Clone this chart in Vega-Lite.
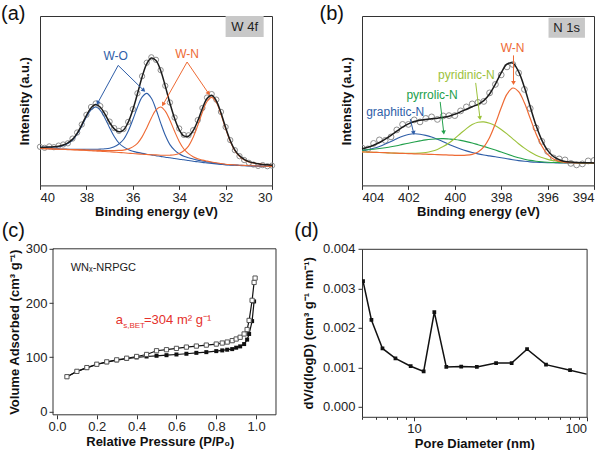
{
"$schema": "https://vega.github.io/schema/vega-lite/v6.json",
"padding": {"left": 0, "top": 3, "right": 0, "bottom": 0},
"config": {
 "font": "Liberation Sans",
 "view": {"stroke": "#333", "strokeWidth": 1},
 "axis": {"grid": false, "domain": false, "labelFont": "Liberation Sans", "labelFontSize": 13, "labelColor": "#222", "titleFont": "Liberation Sans", "titleFontSize": 13, "titleFontWeight": "bold", "titleColor": "#111", "tickColor": "#333", "tickSize": 4, "labelPadding": 2},
 "title": {"font": "Liberation Sans", "fontSize": 20, "fontWeight": "normal", "color": "#111", "anchor": "start", "frame": "group", "offset": 0, "baseline": "alphabetic"}
},
"datasets": {
 "a": [
{"e":40.0,"b1":38.0,"b2":37.0,"o1":37.0,"o2":37.0,"env":38.0,"raw":38.6},
{"e":39.8,"b1":38.0,"b2":36.9,"o1":36.8,"o2":36.8,"env":38.1,"raw":37.6},
{"e":39.6,"b1":38.1,"b2":36.8,"o1":36.6,"o2":36.6,"env":38.3,"raw":39.0},
{"e":39.4,"b1":38.4,"b2":36.6,"o1":36.4,"o2":36.4,"env":38.6,"raw":38.2},
{"e":39.2,"b1":38.8,"b2":36.5,"o1":36.2,"o2":36.2,"env":39.1,"raw":39.8},
{"e":39.0,"b1":40.0,"b2":36.3,"o1":36.1,"o2":36.0,"env":40.4,"raw":40.9},
{"e":38.8,"b1":42.0,"b2":36.2,"o1":36.0,"o2":35.8,"env":42.6,"raw":42.1},
{"e":38.6,"b1":45.3,"b2":36.1,"o1":35.8,"o2":35.6,"env":46.0,"raw":46.8},
{"e":38.4,"b1":51.2,"b2":36.0,"o1":35.7,"o2":35.4,"env":52.1,"raw":52.9},
{"e":38.2,"b1":59.4,"b2":36.0,"o1":35.5,"o2":35.2,"env":60.5,"raw":60.9},
{"e":38.0,"b1":68.4,"b2":36.1,"o1":35.4,"o2":35.0,"env":69.9,"raw":70.6},
{"e":37.8,"b1":75.6,"b2":36.1,"o1":35.2,"o2":34.7,"env":77.5,"raw":78.4},
{"e":37.6,"b1":78.4,"b2":36.1,"o1":35.1,"o2":34.4,"env":80.8,"raw":81.9},
{"e":37.4,"b1":75.0,"b2":36.3,"o1":35.0,"o2":34.1,"env":78.1,"raw":79.3},
{"e":37.2,"b1":67.2,"b2":36.6,"o1":34.9,"o2":33.9,"env":71.2,"raw":72.0},
{"e":37.0,"b1":57.7,"b2":37.2,"o1":34.9,"o2":33.6,"env":62.9,"raw":63.8},
{"e":36.8,"b1":48.9,"b2":38.7,"o1":34.9,"o2":33.3,"env":56.5,"raw":57.3},
{"e":36.6,"b1":42.4,"b2":41.4,"o1":35.0,"o2":32.9,"env":53.6,"raw":54.5},
{"e":36.4,"b1":38.5,"b2":45.9,"o1":35.3,"o2":32.6,"env":55.4,"raw":56.4},
{"e":36.2,"b1":35.9,"b2":54.2,"o1":36.4,"o2":32.2,"env":63.0,"raw":63.5},
{"e":36.0,"b1":34.1,"b2":65.6,"o1":38.5,"o2":31.9,"env":75.6,"raw":76.3},
{"e":35.8,"b1":33.0,"b2":78.1,"o1":42.0,"o2":31.5,"env":91.6,"raw":92.1},
{"e":35.6,"b1":32.0,"b2":88.2,"o1":48.5,"o2":31.2,"env":108.4,"raw":109.2},
{"e":35.4,"b1":31.2,"b2":92.0,"o1":57.5,"o2":30.9,"env":121.6,"raw":122.7},
{"e":35.2,"b1":30.5,"b2":87.2,"o1":67.5,"o2":30.6,"env":127.3,"raw":128.1},
{"e":35.0,"b1":29.7,"b2":76.1,"o1":75.5,"o2":30.5,"env":124.8,"raw":125.6},
{"e":34.8,"b1":29.0,"b2":62.5,"o1":78.4,"o2":30.2,"env":114.9,"raw":115.3},
{"e":34.6,"b1":28.2,"b2":50.1,"o1":74.3,"o2":30.1,"env":99.3,"raw":99.6},
{"e":34.4,"b1":27.6,"b2":40.8,"o1":65.2,"o2":30.2,"env":82.2,"raw":82.9},
{"e":34.2,"b1":26.9,"b2":35.3,"o1":54.1,"o2":30.6,"env":67.1,"raw":67.9},
{"e":34.0,"b1":26.2,"b2":31.6,"o1":44.0,"o2":31.9,"env":55.7,"raw":56.9},
{"e":33.8,"b1":25.6,"b2":29.1,"o1":36.4,"o2":34.6,"env":49.5,"raw":50.5},
{"e":33.6,"b1":24.9,"b2":27.6,"o1":31.8,"o2":39.3,"env":49.2,"raw":50.1},
{"e":33.4,"b1":24.2,"b2":26.4,"o1":28.7,"o2":48.0,"env":54.7,"raw":55.2},
{"e":33.2,"b1":23.6,"b2":25.3,"o1":26.6,"o2":59.9,"env":64.6,"raw":65.3},
{"e":33.0,"b1":23.0,"b2":24.4,"o1":25.3,"o2":73.2,"env":76.9,"raw":77.4},
{"e":32.8,"b1":22.5,"b2":23.6,"o1":24.3,"o2":83.9,"env":86.8,"raw":87.9},
{"e":32.6,"b1":22.0,"b2":22.8,"o1":23.4,"o2":88.0,"env":90.2,"raw":91.3},
{"e":32.4,"b1":21.5,"b2":22.1,"o1":22.6,"o2":82.9,"env":84.6,"raw":85.8},
{"e":32.2,"b1":21.0,"b2":21.5,"o1":21.9,"o2":71.2,"env":72.6,"raw":73.5},
{"e":32.0,"b1":20.5,"b2":20.9,"o1":21.2,"o2":56.8,"env":57.9,"raw":58.4},
{"e":31.8,"b1":20.3,"b2":20.6,"o1":20.8,"o2":44.1,"env":44.9,"raw":45.3},
{"e":31.6,"b1":20.1,"b2":20.4,"o1":20.5,"o2":34.6,"env":35.3,"raw":35.2},
{"e":31.4,"b1":19.9,"b2":20.1,"o1":20.2,"o2":29.1,"env":29.6,"raw":29.2},
{"e":31.2,"b1":19.7,"b2":19.9,"o1":20.0,"o2":25.6,"env":26.0,"raw":25.4},
{"e":31.0,"b1":19.5,"b2":19.6,"o1":19.7,"o2":23.5,"env":23.8,"raw":22.6},
{"e":30.8,"b1":19.4,"b2":19.4,"o1":19.6,"o2":22.4,"env":22.6,"raw":20.8},
{"e":30.6,"b1":19.3,"b2":19.3,"o1":19.4,"o2":21.6,"env":21.7,"raw":19.5},
{"e":30.4,"b1":19.2,"b2":19.2,"o1":19.2,"o2":21.0,"env":21.0,"raw":20.3},
{"e":30.2,"b1":19.1,"b2":19.1,"o1":19.1,"o2":20.6,"env":20.6,"raw":19.2},
{"e":30.0,"b1":19.0,"b2":19.0,"o1":19.0,"o2":20.1,"env":20.1,"raw":19.8}
 ],
 "annA": [
  {"id":"wo1","g":"wo","x1":36.63,"y1":120,"x2":37.5,"y2":83},
  {"id":"wo2","g":"wo","x1":36.63,"y1":120,"x2":35.55,"y2":95.5},
  {"id":"wn1","g":"wn","x1":33.66,"y1":123.4,"x2":34.68,"y2":81.5},
  {"id":"wn2","g":"wn","x1":33.66,"y1":123.4,"x2":32.75,"y2":92.5}
 ],
 "txtA": [{"g":"wo","t":"W-O","x":36.74,"y":129},{"g":"wn","t":"W-N","x":33.66,"y":131.5}],
 "boxA": [{"x1":32.0,"x2":30.36,"y1":148.4,"y2":169.4,"xc":31.18,"yc":158.9,"t":"W 4f"}],
 "b": [
{"e":404.0,"g":34.9,"p":35.2,"y":33.5,"w":33.5,"env":36.6,"raw":37.5},
{"e":403.75,"g":35.8,"p":35.6,"y":33.3,"w":33.3,"env":38.1,"raw":36.5},
{"e":403.5,"g":37.1,"p":36.2,"y":33.1,"w":33.1,"env":40.1,"raw":42.0},
{"e":403.25,"g":38.9,"p":36.9,"y":32.9,"w":32.9,"env":42.9,"raw":45.5},
{"e":403.0,"g":41.3,"p":37.7,"y":32.7,"w":32.7,"env":46.3,"raw":45.0},
{"e":402.75,"g":43.9,"p":38.6,"y":32.4,"w":32.4,"env":50.1,"raw":48.5},
{"e":402.5,"g":46.7,"p":39.7,"y":32.2,"w":32.2,"env":54.2,"raw":55.5},
{"e":402.25,"g":49.2,"p":41.0,"y":32.1,"w":32.0,"env":58.3,"raw":61.0},
{"e":402.0,"g":50.9,"p":42.2,"y":32.0,"w":31.8,"env":61.5,"raw":61.0},
{"e":401.75,"g":51.6,"p":43.4,"y":32.1,"w":31.6,"env":63.9,"raw":65.5},
{"e":401.5,"g":51.2,"p":44.5,"y":32.3,"w":31.4,"env":65.2,"raw":63.5},
{"e":401.25,"g":50.0,"p":45.5,"y":32.9,"w":31.2,"env":66.0,"raw":67.0},
{"e":401.0,"g":48.3,"p":46.2,"y":34.1,"w":31.0,"env":66.6,"raw":68.5},
{"e":400.75,"g":46.1,"p":46.7,"y":36.0,"w":30.8,"env":67.2,"raw":66.0},
{"e":400.5,"g":43.7,"p":46.8,"y":38.8,"w":30.6,"env":68.1,"raw":69.5},
{"e":400.25,"g":41.0,"p":46.4,"y":42.4,"w":30.3,"env":69.2,"raw":69.8},
{"e":400.0,"g":38.6,"p":45.9,"y":46.9,"w":30.1,"env":71.2,"raw":69.8},
{"e":399.75,"g":36.4,"p":45.0,"y":51.9,"w":30.0,"env":73.6,"raw":74.5},
{"e":399.5,"g":34.5,"p":43.8,"y":56.8,"w":30.2,"env":76.2,"raw":78.5},
{"e":399.25,"g":32.9,"p":42.4,"y":60.8,"w":31.1,"env":78.7,"raw":81.5},
{"e":399.0,"g":31.5,"p":40.7,"y":63.1,"w":33.4,"env":81.1,"raw":83.0},
{"e":398.75,"g":30.4,"p":39.0,"y":63.5,"w":38.6,"env":84.8,"raw":84.0},
{"e":398.5,"g":29.5,"p":37.2,"y":62.2,"w":48.0,"env":91.4,"raw":92.5},
{"e":398.25,"g":28.6,"p":35.3,"y":59.6,"w":61.8,"env":101.3,"raw":101.0},
{"e":398.0,"g":27.7,"p":33.3,"y":55.9,"w":77.6,"env":112.6,"raw":110.5},
{"e":397.75,"g":26.7,"p":31.3,"y":51.5,"w":91.2,"env":121.2,"raw":118.5},
{"e":397.5,"g":25.7,"p":29.4,"y":46.6,"w":97.4,"env":122.3,"raw":121.0},
{"e":397.25,"g":24.8,"p":27.6,"y":41.7,"w":93.8,"env":113.7,"raw":112.5},
{"e":397.0,"g":24.1,"p":26.2,"y":37.3,"w":82.6,"env":98.1,"raw":96.0},
{"e":396.75,"g":23.5,"p":25.0,"y":33.4,"w":67.1,"env":78.7,"raw":77.0},
{"e":396.5,"g":23.1,"p":24.2,"y":30.2,"w":51.7,"env":60.1,"raw":57.5},
{"e":396.25,"g":22.9,"p":23.6,"y":27.9,"w":39.4,"env":45.3,"raw":44.0},
{"e":396.0,"g":22.7,"p":23.2,"y":26.0,"w":31.0,"env":35.0,"raw":34.0},
{"e":395.75,"g":22.6,"p":22.9,"y":24.7,"w":26.3,"env":28.9,"raw":27.5},
{"e":395.5,"g":22.5,"p":22.8,"y":23.9,"w":24.0,"env":25.7,"raw":26.5},
{"e":395.25,"g":22.5,"p":22.7,"y":23.3,"w":23.0,"env":24.0,"raw":25.5},
{"e":395.0,"g":22.5,"p":22.6,"y":23.0,"w":22.7,"env":23.3,"raw":22.0},
{"e":394.75,"g":22.5,"p":22.6,"y":22.8,"w":22.5,"env":22.9,"raw":20.5},
{"e":394.5,"g":22.5,"p":22.5,"y":22.7,"w":22.5,"env":22.7,"raw":21.5},
{"e":394.25,"g":22.5,"p":22.5,"y":22.6,"w":22.5,"env":22.6,"raw":24.5},
{"e":394.0,"g":22.5,"p":22.5,"y":22.5,"w":22.5,"env":22.5,"raw":25.0}
 ],
 "annB": [
  {"id":"wn","g":"wn","x1":397.47,"y1":130,"x2":397.47,"y2":103},
  {"id":"py","g":"py","x1":399.1,"y1":102.5,"x2":398.92,"y2":68},
  {"id":"pr","g":"pr","x1":400.63,"y1":83.5,"x2":400.48,"y2":53.5},
  {"id":"gr","g":"gr","x1":401.92,"y1":66.5,"x2":401.78,"y2":53}
 ],
 "txtB": [{"g":"wn","t":"W-N","x":397.51,"y":137},{"g":"py","t":"pyridinic-N","x":399.5,"y":110},{"g":"pr","t":"pyrrolic-N","x":400.98,"y":90.5},{"g":"gr","t":"graphitic-N","x":402.57,"y":73}],
 "boxB": [{"x1":395.96,"x2":394.39,"y1":147.7,"y2":167.7,"xc":395.18,"yc":157.7,"t":"N 1s"}],
 "c": [
{"p":0.05,"v":64.2,"s":"ads"},{"p":0.10,"v":73.8,"s":"ads"},{"p":0.15,"v":80.6,"s":"ads"},{"p":0.20,"v":86.8,"s":"ads"},{"p":0.25,"v":91.0,"s":"ads"},{"p":0.30,"v":94.5,"s":"ads"},{"p":0.35,"v":97.3,"s":"ads"},{"p":0.40,"v":99.8,"s":"ads"},{"p":0.45,"v":101.5,"s":"ads"},{"p":0.50,"v":102.8,"s":"ads"},{"p":0.55,"v":103.9,"s":"ads"},{"p":0.60,"v":105.2,"s":"ads"},{"p":0.65,"v":106.5,"s":"ads"},{"p":0.70,"v":108.2,"s":"ads"},{"p":0.75,"v":109.5,"s":"ads"},{"p":0.80,"v":111.4,"s":"ads"},{"p":0.83,"v":112.7,"s":"ads"},{"p":0.855,"v":114.0,"s":"ads"},{"p":0.88,"v":115.1,"s":"ads"},{"p":0.90,"v":117.7,"s":"ads"},{"p":0.92,"v":120.1,"s":"ads"},{"p":0.94,"v":124.4,"s":"ads"},{"p":0.955,"v":132.6,"s":"ads"},{"p":0.965,"v":143.0,"s":"ads"},{"p":0.98,"v":166.7,"s":"ads"},{"p":0.99,"v":203.0,"s":"ads"},
{"p":0.05,"v":64.2,"s":"des"},{"p":0.10,"v":74.1,"s":"des"},{"p":0.15,"v":81.0,"s":"des"},{"p":0.20,"v":87.2,"s":"des"},{"p":0.25,"v":91.6,"s":"des"},{"p":0.30,"v":95.3,"s":"des"},{"p":0.35,"v":98.3,"s":"des"},{"p":0.40,"v":101.5,"s":"des"},{"p":0.45,"v":105.2,"s":"des"},{"p":0.50,"v":112.1,"s":"des"},{"p":0.55,"v":114.0,"s":"des"},{"p":0.60,"v":116.4,"s":"des"},{"p":0.65,"v":118.8,"s":"des"},{"p":0.70,"v":120.7,"s":"des"},{"p":0.75,"v":122.5,"s":"des"},{"p":0.80,"v":124.4,"s":"des"},{"p":0.83,"v":126.3,"s":"des"},{"p":0.855,"v":128.1,"s":"des"},{"p":0.88,"v":130.7,"s":"des"},{"p":0.90,"v":133.7,"s":"des"},{"p":0.92,"v":136.9,"s":"des"},{"p":0.94,"v":143.0,"s":"des"},{"p":0.955,"v":151.2,"s":"des"},{"p":0.965,"v":168.0,"s":"des"},{"p":0.98,"v":205.0,"s":"des"},{"p":0.99,"v":238.0,"s":"des"},{"p":0.995,"v":246.0,"s":"des"}
 ],
 "cTxt": [{"x":0.069,"y":259,"t":"WNₓ-NRPGC"}],
 "cRed": [{"x":0.295,"y":161}],
 "d": [
{"dia":5.07,"dv":0.00318},{"dia":5.67,"dv":0.00220},{"dia":6.57,"dv":0.00148},{"dia":7.81,"dv":0.00123},{"dia":9.57,"dv":0.00103},{"dia":11.38,"dv":0.00090},{"dia":13.12,"dv":0.00240},{"dia":15.39,"dv":0.00101},{"dia":18.78,"dv":0.00102},{"dia":23.13,"dv":0.00101},{"dia":29.9,"dv":0.00111},{"dia":36.8,"dv":0.00111},{"dia":45.2,"dv":0.00146},{"dia":58.2,"dv":0.00107},{"dia":80.2,"dv":0.00093},{"dia":100,"dv":0.00083}
 ]
},
"columns": 2,
"align": "none",
"bounds": "flush",
"spacing": {"row": 62.8, "column": 82},
"concat": [
  {
   "width": 232, "height": 169.4,
   "title": {"text": "(a)", "dx": -39, "dy": 12},
   "data": {"name": "a"},
   "layer": [
    {"mark": {"type": "point", "filled": false, "size": 28, "stroke": "#8f8f8f", "strokeWidth": 1, "opacity": 1},
     "encoding": {
      "x": {"field": "e", "type": "quantitative", "scale": {"domain": [30, 40], "reverse": true, "nice": false, "zero": false},
            "axis": {"title": "Binding energy (eV)", "values": [30,31,32,33,34,35,36,37,38,39,40], "format": "d", "labelExpr": "datum.value % 2 === 0 ? datum.label : ''", "tickSize": {"condition": {"test": "datum.value % 2 === 0", "value": 4}, "value": 2.5}, "titlePadding": 1}},
      "y": {"field": "raw", "type": "quantitative", "scale": {"domain": [0, 169.4], "nice": false, "zero": false},
            "axis": {"title": "Intensity (a.u.)", "labels": false, "ticks": false, "titlePadding": 9}}}},
    {"mark": {"type": "line", "color": "#2f5ea8", "strokeWidth": 1.1, "interpolate": "catmull-rom"}, "encoding": {"x": {"field": "e", "type": "quantitative"}, "y": {"field": "b1", "type": "quantitative"}}},
    {"mark": {"type": "line", "color": "#2f5ea8", "strokeWidth": 1.1, "interpolate": "catmull-rom"}, "encoding": {"x": {"field": "e", "type": "quantitative"}, "y": {"field": "b2", "type": "quantitative"}}},
    {"mark": {"type": "line", "color": "#ee6a34", "strokeWidth": 1.1, "interpolate": "catmull-rom"}, "encoding": {"x": {"field": "e", "type": "quantitative"}, "y": {"field": "o1", "type": "quantitative"}}},
    {"mark": {"type": "line", "color": "#ee6a34", "strokeWidth": 1.1, "interpolate": "catmull-rom"}, "encoding": {"x": {"field": "e", "type": "quantitative"}, "y": {"field": "o2", "type": "quantitative"}}},
    {"mark": {"type": "line", "color": "#1c1c1c", "strokeWidth": 1.5, "interpolate": "catmull-rom"}, "encoding": {"x": {"field": "e", "type": "quantitative"}, "y": {"field": "env", "type": "quantitative"}}},
    {"data": {"name": "annA"}, "transform": [{"filter": "datum.g === 'wo'"}], "mark": {"type": "rule", "strokeWidth": 1, "color": "#2f5ea8"},
     "encoding": {"x": {"field": "x1", "type": "quantitative"}, "y": {"field": "y1", "type": "quantitative"}, "x2": {"field": "x2"}, "y2": {"field": "y2"}}},
    {"data": {"name": "annA"}, "transform": [{"filter": "datum.g === 'wn'"}], "mark": {"type": "rule", "strokeWidth": 1, "color": "#ee6a34"},
     "encoding": {"x": {"field": "x1", "type": "quantitative"}, "y": {"field": "y1", "type": "quantitative"}, "x2": {"field": "x2"}, "y2": {"field": "y2"}}},
    {"data": {"name": "annA"}, "transform": [{"filter": "datum.id === 'wo1'"}], "mark": {"type": "point", "shape": "triangle", "filled": true, "size": 22, "angle": 208, "color": "#2f5ea8", "opacity": 1}, "encoding": {"x": {"field": "x2", "type": "quantitative"}, "y": {"field": "y2", "type": "quantitative"}}},
    {"data": {"name": "annA"}, "transform": [{"filter": "datum.id === 'wo2'"}], "mark": {"type": "point", "shape": "triangle", "filled": true, "size": 22, "angle": 133, "color": "#2f5ea8", "opacity": 1}, "encoding": {"x": {"field": "x2", "type": "quantitative"}, "y": {"field": "y2", "type": "quantitative"}}},
    {"data": {"name": "annA"}, "transform": [{"filter": "datum.id === 'wn1'"}], "mark": {"type": "point", "shape": "triangle", "filled": true, "size": 22, "angle": 209, "color": "#ee6a34", "opacity": 1}, "encoding": {"x": {"field": "x2", "type": "quantitative"}, "y": {"field": "y2", "type": "quantitative"}}},
    {"data": {"name": "annA"}, "transform": [{"filter": "datum.id === 'wn2'"}], "mark": {"type": "point", "shape": "triangle", "filled": true, "size": 22, "angle": 146, "color": "#ee6a34", "opacity": 1}, "encoding": {"x": {"field": "x2", "type": "quantitative"}, "y": {"field": "y2", "type": "quantitative"}}},
    {"data": {"name": "txtA"}, "transform": [{"filter": "datum.g === 'wo'"}], "mark": {"type": "text", "fontSize": 12, "baseline": "middle", "align": "center", "color": "#2f5ea8"},
     "encoding": {"x": {"field": "x", "type": "quantitative"}, "y": {"field": "y", "type": "quantitative"}, "text": {"field": "t"}}},
    {"data": {"name": "txtA"}, "transform": [{"filter": "datum.g === 'wn'"}], "mark": {"type": "text", "fontSize": 12, "baseline": "middle", "align": "center", "color": "#ee6a34"},
     "encoding": {"x": {"field": "x", "type": "quantitative"}, "y": {"field": "y", "type": "quantitative"}, "text": {"field": "t"}}},
    {"data": {"name": "boxA"}, "mark": {"type": "rect", "color": "#c8c8c8", "opacity": 1}, "encoding": {"x": {"field": "x1", "type": "quantitative"}, "x2": {"field": "x2"}, "y": {"field": "y1", "type": "quantitative"}, "y2": {"field": "y2"}}},
    {"data": {"name": "boxA"}, "mark": {"type": "text", "fontSize": 13, "color": "#222", "baseline": "middle"}, "encoding": {"x": {"field": "xc", "type": "quantitative"}, "y": {"field": "yc", "type": "quantitative"}, "text": {"field": "t"}}}
   ]
  },
  {
   "width": 232, "height": 169.4,
   "title": {"text": "(b)", "dx": -42.5, "dy": 12},
   "data": {"name": "b"},
   "layer": [
    {"mark": {"type": "point", "filled": false, "size": 34, "stroke": "#8f8f8f", "strokeWidth": 1, "opacity": 1, "clip": true},
     "encoding": {
      "x": {"field": "e", "type": "quantitative", "scale": {"domain": [394, 404], "reverse": true, "nice": false, "zero": false},
            "axis": {"title": "Binding energy (eV)", "values": [394,395,396,397,398,399,400,401,402,403,404], "format": "d", "labelExpr": "datum.value % 2 === 0 ? datum.label : ''", "tickSize": {"condition": {"test": "datum.value % 2 === 0", "value": 4}, "value": 2.5}, "titlePadding": 1}},
      "y": {"field": "raw", "type": "quantitative", "scale": {"domain": [0, 169.4], "nice": false, "zero": false},
            "axis": {"title": "Intensity (a.u.)", "labels": false, "ticks": false, "titlePadding": 9}}}},
    {"mark": {"type": "line", "color": "#2f5ea8", "strokeWidth": 1.1, "interpolate": "catmull-rom"}, "encoding": {"x": {"field": "e", "type": "quantitative"}, "y": {"field": "g", "type": "quantitative"}}},
    {"mark": {"type": "line", "color": "#22a04b", "strokeWidth": 1.1, "interpolate": "catmull-rom"}, "encoding": {"x": {"field": "e", "type": "quantitative"}, "y": {"field": "p", "type": "quantitative"}}},
    {"mark": {"type": "line", "color": "#9cc23b", "strokeWidth": 1.1, "interpolate": "catmull-rom"}, "encoding": {"x": {"field": "e", "type": "quantitative"}, "y": {"field": "y", "type": "quantitative"}}},
    {"mark": {"type": "line", "color": "#ee6a34", "strokeWidth": 1.2, "interpolate": "catmull-rom"}, "encoding": {"x": {"field": "e", "type": "quantitative"}, "y": {"field": "w", "type": "quantitative"}}},
    {"mark": {"type": "line", "color": "#1c1c1c", "strokeWidth": 1.5, "interpolate": "catmull-rom"}, "encoding": {"x": {"field": "e", "type": "quantitative"}, "y": {"field": "env", "type": "quantitative"}}},
    {"data": {"name": "annB"}, "transform": [{"filter": "datum.id === 'wn'"}], "mark": {"type": "rule", "strokeWidth": 1, "color": "#ee6a34"}, "encoding": {"x": {"field": "x1", "type": "quantitative"}, "y": {"field": "y1", "type": "quantitative"}, "x2": {"field": "x2"}, "y2": {"field": "y2"}}},
    {"data": {"name": "annB"}, "transform": [{"filter": "datum.id === 'py'"}], "mark": {"type": "rule", "strokeWidth": 1, "color": "#9cc23b"}, "encoding": {"x": {"field": "x1", "type": "quantitative"}, "y": {"field": "y1", "type": "quantitative"}, "x2": {"field": "x2"}, "y2": {"field": "y2"}}},
    {"data": {"name": "annB"}, "transform": [{"filter": "datum.id === 'pr'"}], "mark": {"type": "rule", "strokeWidth": 1, "color": "#22a04b"}, "encoding": {"x": {"field": "x1", "type": "quantitative"}, "y": {"field": "y1", "type": "quantitative"}, "x2": {"field": "x2"}, "y2": {"field": "y2"}}},
    {"data": {"name": "annB"}, "transform": [{"filter": "datum.id === 'gr'"}], "mark": {"type": "rule", "strokeWidth": 1, "color": "#2f5ea8"}, "encoding": {"x": {"field": "x1", "type": "quantitative"}, "y": {"field": "y1", "type": "quantitative"}, "x2": {"field": "x2"}, "y2": {"field": "y2"}}},
    {"data": {"name": "annB"}, "transform": [{"filter": "datum.id === 'wn'"}], "mark": {"type": "point", "shape": "triangle", "filled": true, "size": 22, "angle": 180, "color": "#ee6a34", "opacity": 1}, "encoding": {"x": {"field": "x2", "type": "quantitative"}, "y": {"field": "y2", "type": "quantitative"}}},
    {"data": {"name": "annB"}, "transform": [{"filter": "datum.id === 'py'"}], "mark": {"type": "point", "shape": "triangle", "filled": true, "size": 22, "angle": 172, "color": "#9cc23b", "opacity": 1}, "encoding": {"x": {"field": "x2", "type": "quantitative"}, "y": {"field": "y2", "type": "quantitative"}}},
    {"data": {"name": "annB"}, "transform": [{"filter": "datum.id === 'pr'"}], "mark": {"type": "point", "shape": "triangle", "filled": true, "size": 22, "angle": 174, "color": "#22a04b", "opacity": 1}, "encoding": {"x": {"field": "x2", "type": "quantitative"}, "y": {"field": "y2", "type": "quantitative"}}},
    {"data": {"name": "annB"}, "transform": [{"filter": "datum.id === 'gr'"}], "mark": {"type": "point", "shape": "triangle", "filled": true, "size": 22, "angle": 168, "color": "#2f5ea8", "opacity": 1}, "encoding": {"x": {"field": "x2", "type": "quantitative"}, "y": {"field": "y2", "type": "quantitative"}}},
    {"data": {"name": "txtB"}, "transform": [{"filter": "datum.g === 'gr'"}], "mark": {"type": "text", "fontSize": 12, "baseline": "middle", "align": "center", "color": "#2f5ea8"},
     "encoding": {"x": {"field": "x", "type": "quantitative"}, "y": {"field": "y", "type": "quantitative"}, "text": {"field": "t"}}},
    {"data": {"name": "txtB"}, "transform": [{"filter": "datum.g === 'pr'"}], "mark": {"type": "text", "fontSize": 12, "baseline": "middle", "align": "center", "color": "#22a04b"},
     "encoding": {"x": {"field": "x", "type": "quantitative"}, "y": {"field": "y", "type": "quantitative"}, "text": {"field": "t"}}},
    {"data": {"name": "txtB"}, "transform": [{"filter": "datum.g === 'py'"}], "mark": {"type": "text", "fontSize": 12, "baseline": "middle", "align": "center", "color": "#9cc23b"},
     "encoding": {"x": {"field": "x", "type": "quantitative"}, "y": {"field": "y", "type": "quantitative"}, "text": {"field": "t"}}},
    {"data": {"name": "txtB"}, "transform": [{"filter": "datum.g === 'wn'"}], "mark": {"type": "text", "fontSize": 12, "baseline": "middle", "align": "center", "color": "#ee6a34"},
     "encoding": {"x": {"field": "x", "type": "quantitative"}, "y": {"field": "y", "type": "quantitative"}, "text": {"field": "t"}}},
    {"data": {"name": "boxB"}, "mark": {"type": "rect", "color": "#c8c8c8", "opacity": 1}, "encoding": {"x": {"field": "x1", "type": "quantitative"}, "x2": {"field": "x2"}, "y": {"field": "y1", "type": "quantitative"}, "y2": {"field": "y2"}}},
    {"data": {"name": "boxB"}, "mark": {"type": "text", "fontSize": 13, "color": "#222", "baseline": "middle"}, "encoding": {"x": {"field": "xc", "type": "quantitative"}, "y": {"field": "yc", "type": "quantitative"}, "text": {"field": "t"}}}
   ]
  },
  {
   "width": 239.7, "height": 166,
   "view": {"stroke": null},
   "title": {"text": "(c)", "dx": -38.3, "dy": 2},
   "data": {"name": "c"},
   "layer": [
    {"transform": [{"filter": "datum.s === 'ads'"}], "mark": {"type": "line", "color": "#111", "strokeWidth": 1.2},
     "encoding": {
      "x": {"field": "p", "type": "quantitative", "scale": {"domain": [-0.0853, 1.1186], "nice": false, "zero": false},
            "axis": {"title": "Relative Pressure (P/P₀)", "values": [0,0.1,0.2,0.3,0.4,0.5,0.6,0.7,0.8,0.9,1.0], "labelExpr": "round(datum.value*10) % 2 === 0 ? format(datum.value, '.1f') : ''", "tickSize": {"condition": {"test": "round(datum.value*10) % 2 === 0", "value": 4}, "value": 2.5}, "titlePadding": 2}},
      "y": {"field": "v", "type": "quantitative", "scale": {"domain": [-6, 300], "nice": false, "zero": false},
            "axis": {"title": "Volume Adsorbed (cm³ g⁻¹)", "values": [0,50,100,150,200,250,300], "labelExpr": "datum.value % 100 === 0 ? datum.label : ''", "tickSize": {"condition": {"test": "datum.value % 100 === 0", "value": 4}, "value": 2.5}, "offset": -13, "titlePadding": 4}}}},
    {"transform": [{"filter": "datum.s === 'des'"}], "mark": {"type": "line", "color": "#111", "strokeWidth": 1.2}, "encoding": {"x": {"field": "p", "type": "quantitative"}, "y": {"field": "v", "type": "quantitative"}}},
    {"transform": [{"filter": "datum.s === 'ads'"}], "mark": {"type": "square", "size": 16, "color": "#111", "opacity": 1}, "encoding": {"x": {"field": "p", "type": "quantitative"}, "y": {"field": "v", "type": "quantitative"}}},
    {"transform": [{"filter": "datum.s === 'des'"}], "mark": {"type": "point", "shape": "square", "size": 18, "filled": true, "fill": "#fff", "stroke": "#555", "strokeWidth": 1, "opacity": 1}, "encoding": {"x": {"field": "p", "type": "quantitative"}, "y": {"field": "v", "type": "quantitative"}}},
    {"data": {"name": "cTxt"}, "mark": {"type": "text", "fontSize": 11, "align": "left", "baseline": "alphabetic", "color": "#222"}, "encoding": {"x": {"field": "x", "type": "quantitative"}, "y": {"field": "y", "type": "quantitative"}, "text": {"field": "t"}}},
    {"data": {"name": "cRed"}, "mark": {"type": "text", "fontSize": 13, "align": "left", "baseline": "alphabetic", "color": "#e5312c", "text": "a"}, "encoding": {"x": {"field": "x", "type": "quantitative"}, "y": {"field": "y", "type": "quantitative"}}},
    {"data": {"name": "cRed"}, "mark": {"type": "text", "fontSize": 8, "align": "left", "baseline": "alphabetic", "color": "#e5312c", "text": "s,BET", "dx": 7.5, "dy": 3.5}, "encoding": {"x": {"field": "x", "type": "quantitative"}, "y": {"field": "y", "type": "quantitative"}}},
    {"data": {"name": "cRed"}, "mark": {"type": "text", "fontSize": 13, "align": "left", "baseline": "alphabetic", "color": "#e5312c", "text": "=304 m² g⁻¹", "dx": 28.3}, "encoding": {"x": {"field": "x", "type": "quantitative"}, "y": {"field": "y", "type": "quantitative"}}},
    {"data": {"values": [{}]}, "mark": {"type": "rect", "filled": false, "color": "#333", "strokeWidth": 1}, "encoding": {"x": {"datum": -0.02, "type": "quantitative"}, "x2": {"datum": 1.1}, "y": {"datum": -6, "type": "quantitative"}, "y2": {"datum": 300}}}
   ]
  },
  {
   "width": 224.6, "height": 168,
   "title": {"text": "(d)", "dx": -67.7, "dy": 2},
   "data": {"name": "d"},
   "layer": [
    {"mark": {"type": "line", "color": "#111", "strokeWidth": 1.5},
     "encoding": {
      "x": {"field": "dia", "type": "quantitative", "scale": {"type": "log", "domain": [5, 100], "nice": false},
            "axis": {"title": "Pore Diameter (nm)", "values": [5,6,7,8,9,10,20,30,40,50,60,70,80,90,100], "labelExpr": "datum.value === 10 || datum.value === 100 ? format(datum.value, 'd') : ''", "tickSize": {"condition": {"test": "datum.value === 10 || datum.value === 100", "value": 4}, "value": 2.5}, "titlePadding": 2}},
      "y": {"field": "dv", "type": "quantitative", "scale": {"domain": [-0.00025, 0.004], "nice": false, "zero": false},
            "axis": {"title": "dV/d(logD)  (cm³ g⁻¹ nm⁻¹)", "values": [0,0.0005,0.001,0.0015,0.002,0.0025,0.003,0.0035,0.004], "labelExpr": "round(datum.value*2000) % 2 === 0 ? format(datum.value, '.3f') : ''", "tickSize": {"condition": {"test": "round(datum.value*2000) % 2 === 0", "value": 4}, "value": 2.5}, "labelPadding": 3, "titlePadding": 7}}}},
    {"transform": [{"filter": "datum.dia < 99"}], "mark": {"type": "square", "size": 14, "color": "#111", "opacity": 1, "clip": true}, "encoding": {"x": {"field": "dia", "type": "quantitative"}, "y": {"field": "dv", "type": "quantitative"}}}
   ]
  }
]
}
